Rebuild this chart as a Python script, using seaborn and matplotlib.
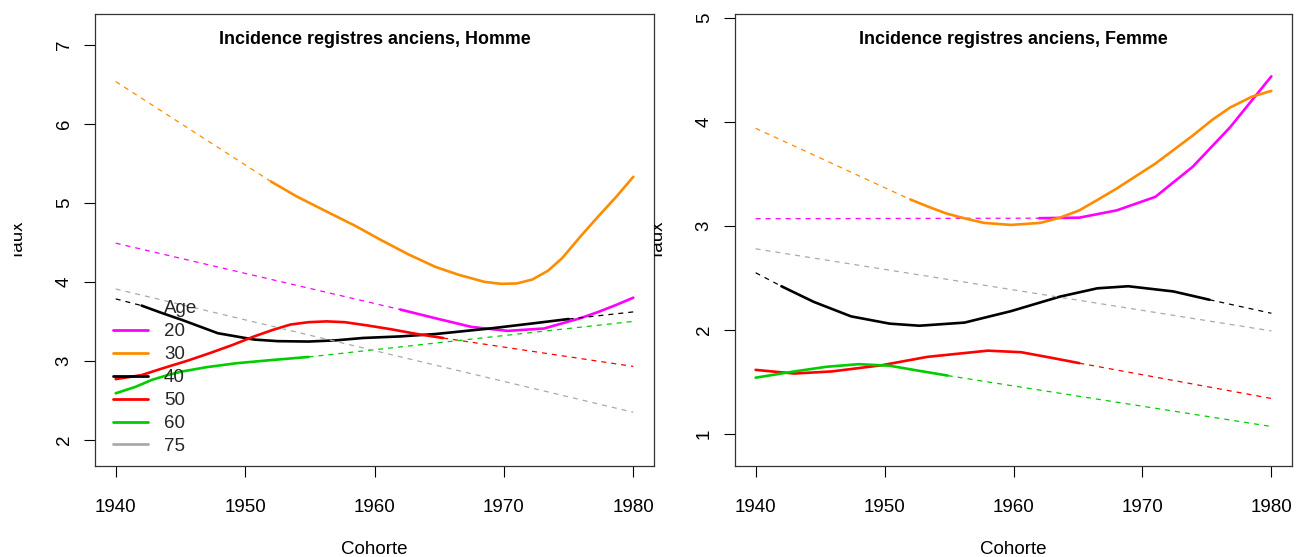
import matplotlib
matplotlib.use("Agg")
import matplotlib.pyplot as plt
import seaborn as sns
from matplotlib.lines import Line2D
from matplotlib.transforms import Bbox

# ---- données ----
ages = [20, 30, 40, 50, 60, 75]
couleurs = {20: "#FF00FF", 30: "#FF8C00", 40: "#000000", 50: "#FF0000", 60: "#00CD00", 75: "#AAAAAA"}

# Homme : années et taux, plus la plage observée (trait plein)
homme_x = {
    20: [1940, 1962, 1964.7, 1967.5, 1970.3, 1973.1, 1975.9, 1977.3, 1978.7, 1980],
    30: [1940, 1952, 1954, 1956.3, 1958.5, 1960.5, 1962.6, 1964.7, 1966.5, 1968.5, 1969.8,
         1971, 1972.2, 1973.4, 1974.5, 1976, 1977.3, 1978.7, 1980],
    40: [1940, 1942, 1943.5, 1945.1, 1947.9, 1950.7, 1952.5, 1954.9, 1957, 1959.1, 1962,
         1964.7, 1968.9, 1972, 1975, 1980],
    50: [1940, 1942, 1943.7, 1945.5, 1947.3, 1949, 1950.7, 1952.1, 1953.5, 1954.9, 1956.3,
         1957.7, 1959.4, 1961.3, 1963.3, 1965.3, 1980],
    60: [1940, 1941.5, 1942.8, 1944, 1945.1, 1947, 1949.3, 1952, 1954.9, 1980],
    75: [1940, 1980],
}
homme_y = {
    20: [4.49, 3.65, 3.54, 3.43, 3.38, 3.41, 3.54, 3.62, 3.71, 3.80],
    30: [6.535, 5.27, 5.08, 4.89, 4.71, 4.53, 4.35, 4.19, 4.09, 4.0, 3.975,
         3.98, 4.03, 4.14, 4.30, 4.59, 4.83, 5.08, 5.33],
    40: [3.785, 3.70, 3.61, 3.52, 3.35, 3.27, 3.25, 3.245, 3.26, 3.29, 3.31,
         3.34, 3.41, 3.47, 3.53, 3.62],
    50: [2.77, 2.82, 2.91, 3.0, 3.10, 3.20, 3.31, 3.39, 3.46, 3.49, 3.50,
         3.49, 3.45, 3.40, 3.34, 3.29, 2.93],
    60: [2.59, 2.67, 2.76, 2.82, 2.865, 2.92, 2.97, 3.01, 3.05, 3.50],
    75: [3.91, 2.35],
}
homme_obs = {20: (1962, 1980), 30: (1952, 1980), 40: (1942, 1975),
             50: (1940, 1965.3), 60: (1940, 1954.9), 75: None}

# Femme
femme_x = {
    20: [1940, 1962, 1965.1, 1968, 1971, 1973.9, 1976.8, 1978.3, 1980],
    30: [1940, 1952, 1953.5, 1954.8, 1956.3, 1957.7, 1959.8, 1962.1, 1963.6, 1965.1,
         1966.5, 1968, 1971, 1973.9, 1975.4, 1976.8, 1978.5, 1980],
    40: [1940, 1942, 1944.5, 1947.4, 1950.4, 1952.7, 1956.2, 1959.8, 1963.6, 1966.5,
         1968.9, 1972.4, 1975.2, 1980],
    50: [1940, 1943, 1945.9, 1949.8, 1953.3, 1958, 1960.6, 1963, 1965.1, 1980],
    60: [1940, 1943, 1945.5, 1948, 1950.4, 1952.5, 1954.9, 1980],
    75: [1940, 1980],
}
femme_y = {
    20: [3.07, 3.075, 3.08, 3.15, 3.28, 3.57, 3.95, 4.18, 4.44],
    30: [3.94, 3.255, 3.18, 3.12, 3.07, 3.03, 3.01, 3.03, 3.08, 3.15,
         3.25, 3.36, 3.60, 3.87, 4.02, 4.14, 4.245, 4.30],
    40: [2.55, 2.42, 2.27, 2.13, 2.06, 2.04, 2.07, 2.18, 2.32, 2.40,
         2.42, 2.37, 2.29, 2.16],
    50: [1.615, 1.58, 1.60, 1.66, 1.74, 1.80, 1.785, 1.73, 1.68, 1.34],
    60: [1.54, 1.60, 1.645, 1.67, 1.655, 1.61, 1.56, 1.07],
    75: [2.78, 1.99],
}
femme_obs = {20: (1962, 1980), 30: (1952, 1980), 40: (1942, 1975.2),
             50: (1940, 1965.1), 60: (1940, 1954.9), 75: None}

titres = ["Incidence registres anciens, Homme", "Incidence registres anciens, Femme"]
x_ticks = [1940, 1950, 1960, 1970, 1980]
y_ticks = [[2, 3, 4, 5, 6, 7], [1, 2, 3, 4, 5]]
y_lims = [(1.67, 7.39), (0.69, 5.04)]

W, H = 1296, 557
sns.set_theme(style="white")
plt.rcParams["font.family"] = ["Liberation Sans", "DejaVu Sans"]

fig = plt.figure(figsize=(W / 100, H / 100), dpi=100)
ax_pos = [(95, 654), (735, 1292)]
top, bottom = 14, 466
fs = 13.5


def tracer(ax, xs, ys, obs):
    for age in ages:
        x, y = xs[age], ys[age]
        c = couleurs[age]
        if obs[age] is None:
            sns.lineplot(x=x, y=y, ax=ax, color=c, lw=0.9, linestyle=(0, (4, 4)), sort=False)
            continue
        a, b = obs[age]
        avant = [(u, v) for u, v in zip(x, y) if u <= a]
        plein = [(u, v) for u, v in zip(x, y) if a <= u <= b]
        apres = [(u, v) for u, v in zip(x, y) if u >= b]
        for seg in (avant, apres):
            if len(seg) > 1:
                sns.lineplot(x=[p[0] for p in seg], y=[p[1] for p in seg], ax=ax,
                             color=c, lw=0.9, linestyle=(0, (4, 4)), sort=False)
        sns.lineplot(x=[p[0] for p in plein], y=[p[1] for p in plein], ax=ax,
                     color=c, lw=1.9, sort=False)


for i, (xs, ys, obs) in enumerate([(homme_x, homme_y, homme_obs), (femme_x, femme_y, femme_obs)]):
    l, r = ax_pos[i]
    ax = fig.add_axes([l / W, (H - bottom) / H, (r - l) / W, (bottom - top) / H])
    tracer(ax, xs, ys, obs)
    ax.set_xlim(1938.4, 1981.6)
    ax.set_ylim(*y_lims[i])
    ax.set_xticks(x_ticks)
    ax.set_yticks(y_ticks[i])
    ax.tick_params(axis="both", direction="out", length=8, width=0.8, color="black",
                   labelsize=fs, labelcolor="black", bottom=True, left=True)
    ax.tick_params(axis="x", pad=15.5)
    ax.tick_params(axis="y", pad=8)
    for t in ax.get_yticklabels():
        t.set_rotation(90)
        t.set_va("center")
    for s in ax.spines.values():
        s.set_color("#333333")
        s.set_linewidth(0.9)
    ax.grid(False)
    ax.set_xlabel("Cohorte", fontsize=fs, labelpad=18.5, color="black")
    ax.set_ylabel("")
    ax.text(0.5, (bottom - 40) / (bottom - top), titres[i], transform=ax.transAxes,
            ha="center", va="center", fontsize=12.9, fontweight="bold", color="black")

    # libellé Taux, coupé à gauche comme sur l'original
    lab = fig.text((l - 72) / W, (H - 240) / H, "Taux", rotation=90, rotation_mode="anchor",
                   ha="center", va="baseline", fontsize=fs, color="black")
    lab.set_clip_on(True)
    lab.set_clip_box(Bbox([[l - 81.5, 0], [l, H]]))

    if i == 0:
        handles = [Line2D([], [], color="none")] + [Line2D([], [], color=couleurs[a], lw=2) for a in ages]
        labels = ["Age"] + [str(a) for a in ages]
        ax.legend(handles, labels, loc="lower left", bbox_to_anchor=(0.026, 0.016),
                  frameon=False, fontsize=fs, handlelength=1.85, handletextpad=0.85,
                  labelspacing=0.31, borderpad=0.2, borderaxespad=0)

fig.savefig("out.png", dpi=100)
